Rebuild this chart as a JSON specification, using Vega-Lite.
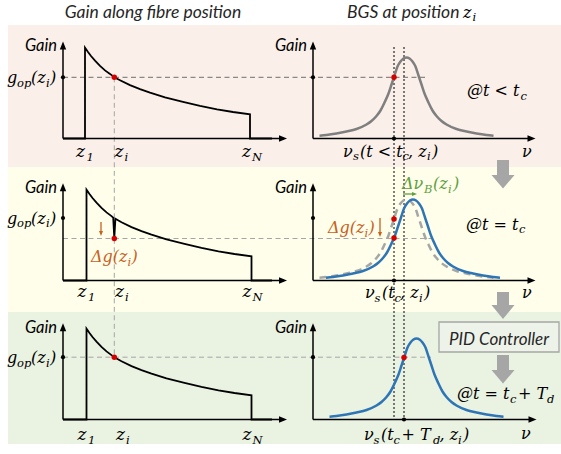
{
"$schema": "https://vega.github.io/schema/vega-lite/v6.json",
"width": 561, "height": 454, "padding": 0, "autosize": {"type": "none"},
"background": "white",
"config": {"view": {"stroke": null}},
"datasets": {
"bands": [
{"band":"a","x":8,"x2":561,"y":25,"y2":167},
{"band":"b","x":8,"x2":561,"y":167,"y2":312},
{"band":"c","x":8,"x2":561,"y":312,"y2":444}],
"shafts": [
{"x":497,"x2":509,"y":160,"y2":175.5},
{"x":497,"x2":509,"y":292,"y2":305.5},
{"x":497,"x2":509,"y":355,"y2":370.5}],
"heads": [
{"id":1,"x":491.5,"y":175,"y2":175},{"id":1,"x":503,"y":175,"y2":188.5},{"id":1,"x":514.5,"y":175,"y2":175},
{"id":2,"x":491.5,"y":305,"y2":305},{"id":2,"x":503,"y":305,"y2":319},{"id":2,"x":514.5,"y":305,"y2":305},
{"id":3,"x":491.5,"y":370,"y2":370},{"id":3,"x":503,"y":370,"y2":383.5},{"id":3,"x":514.5,"y":370,"y2":370}],
"pid": [{"x":439,"x2":559,"y":322,"y2":352}],
"dashes": [
{"tone":"dark","x":63,"y":77.3,"x2":428,"y2":77.3},
{"tone":"light","x":63,"y":238.5,"x2":433,"y2":238.5},
{"tone":"light","x":63,"y":357.2,"x2":431,"y2":357.2},
{"tone":"light","x":114.3,"y":77.3,"x2":114.3,"y2":357.2}],
"dotted": [
{"x":394,"y":47,"x2":394,"y2":419.5},
{"x":404,"y":47,"x2":404,"y2":419.5}],
"axes": [
{"x":63,"y":138.5,"x2":63,"y2":45},{"x":63,"y":280.5,"x2":63,"y2":187},{"x":63,"y":419.5,"x2":63,"y2":327},
{"x":63,"y":138.5,"x2":284,"y2":138.5},{"x":63,"y":280.5,"x2":284,"y2":280.5},{"x":63,"y":419.5,"x2":284,"y2":419.5},
{"x":313,"y":138.5,"x2":313,"y2":45},{"x":313,"y":280.5,"x2":313,"y2":187},{"x":313,"y":419.5,"x2":313,"y2":327},
{"x":313,"y":138.5,"x2":532,"y2":138.5},{"x":313,"y":280.5,"x2":532,"y2":280.5},{"x":313,"y":419.5,"x2":533,"y2":419.5}],
"ahead": [
{"dir":"up","x":63,"y":45.5},{"dir":"up","x":313,"y":45.5},{"dir":"up","x":63,"y":187.3},{"dir":"up","x":313,"y":187.3},{"dir":"up","x":63,"y":327.3},{"dir":"up","x":313,"y":327.3},
{"dir":"right","x":283,"y":138.5},{"dir":"right","x":531.5,"y":138.5},{"dir":"right","x":283,"y":280.5},{"dir":"right","x":531.5,"y":280.5},{"dir":"right","x":283,"y":419.5},{"dir":"right","x":532.5,"y":419.5}],
"gain": [
{"c":"r1","o":0,"x":63,"y":138.5},{"c":"r1","o":1,"x":85,"y":138.5},{"c":"r1","o":2,"x":85,"y":47.7},{"c":"r1","o":3,"x":88,"y":52},{"c":"r1","o":4,"x":91,"y":56},{"c":"r1","o":5,"x":95,"y":60.7},{"c":"r1","o":6,"x":100,"y":65.9},{"c":"r1","o":7,"x":105,"y":70.4},{"c":"r1","o":8,"x":110,"y":73.9},{"c":"r1","o":9,"x":114.3,"y":77.3},{"c":"r1","o":10,"x":120,"y":80.2},{"c":"r1","o":11,"x":130,"y":85.1},{"c":"r1","o":12,"x":140,"y":89.1},{"c":"r1","o":13,"x":150,"y":92.6},{"c":"r1","o":14,"x":165,"y":97.4},{"c":"r1","o":15,"x":183,"y":101.8},{"c":"r1","o":16,"x":200,"y":105.8},{"c":"r1","o":17,"x":217,"y":109.3},{"c":"r1","o":18,"x":233,"y":112},{"c":"r1","o":19,"x":250,"y":114.3},{"c":"r1","o":20,"x":250,"y":138.5},{"c":"r1","o":21,"x":272,"y":138.5},
{"c":"r2","o":0,"x":63,"y":280.5},{"c":"r2","o":1,"x":86.5,"y":280.5},{"c":"r2","o":2,"x":86.5,"y":189.7},{"c":"r2","o":3,"x":89.5,"y":194},{"c":"r2","o":4,"x":92.5,"y":198},{"c":"r2","o":5,"x":96.5,"y":202.7},{"c":"r2","o":6,"x":101.5,"y":207.9},{"c":"r2","o":7,"x":106.5,"y":212.4},{"c":"r2","o":8,"x":111.5,"y":216.1},{"c":"r2","o":9,"x":113.2,"y":217.7},{"c":"r2","o":10,"x":114.3,"y":238.5},{"c":"r2","o":11,"x":115.4,"y":218.8},{"c":"r2","o":12,"x":121.5,"y":222.2},{"c":"r2","o":13,"x":131.5,"y":227.1},{"c":"r2","o":14,"x":141.5,"y":231.1},{"c":"r2","o":15,"x":151.5,"y":234.6},{"c":"r2","o":16,"x":166.5,"y":239.4},{"c":"r2","o":17,"x":184.5,"y":243.8},{"c":"r2","o":18,"x":201.5,"y":247.8},{"c":"r2","o":19,"x":218.5,"y":251.3},{"c":"r2","o":20,"x":234.5,"y":254},{"c":"r2","o":21,"x":251.5,"y":256.3},{"c":"r2","o":22,"x":251.5,"y":280.5},{"c":"r2","o":23,"x":272,"y":280.5},
{"c":"r3","o":0,"x":63,"y":419.5},{"c":"r3","o":1,"x":86.5,"y":419.5},{"c":"r3","o":2,"x":86.5,"y":328.7},{"c":"r3","o":3,"x":89.5,"y":333},{"c":"r3","o":4,"x":92.5,"y":337},{"c":"r3","o":5,"x":96.5,"y":341.7},{"c":"r3","o":6,"x":101.5,"y":346.9},{"c":"r3","o":7,"x":106.5,"y":351.4},{"c":"r3","o":8,"x":111.5,"y":355.1},{"c":"r3","o":9,"x":114.3,"y":357.2},{"c":"r3","o":10,"x":121.5,"y":361.2},{"c":"r3","o":11,"x":131.5,"y":366.1},{"c":"r3","o":12,"x":141.5,"y":370.1},{"c":"r3","o":13,"x":151.5,"y":373.6},{"c":"r3","o":14,"x":166.5,"y":378.4},{"c":"r3","o":15,"x":184.5,"y":382.8},{"c":"r3","o":16,"x":201.5,"y":386.8},{"c":"r3","o":17,"x":218.5,"y":390.3},{"c":"r3","o":18,"x":234.5,"y":393},{"c":"r3","o":19,"x":251.5,"y":395.3},{"c":"r3","o":20,"x":251.5,"y":419.5},{"c":"r3","o":21,"x":272,"y":419.5}],
"bgs": [
{"c":"g1","x":319.5,"y":135.7},{"c":"g1","x":326.5,"y":135},{"c":"g1","x":336.5,"y":133.5},{"c":"g1","x":346.5,"y":131.5},{"c":"g1","x":356.5,"y":129},{"c":"g1","x":366.5,"y":124.5},{"c":"g1","x":371.5,"y":121},{"c":"g1","x":376.5,"y":116},{"c":"g1","x":380.5,"y":110.5},{"c":"g1","x":384.5,"y":102.5},{"c":"g1","x":388.5,"y":93.5},{"c":"g1","x":391.5,"y":84.5},{"c":"g1","x":394.5,"y":75.5},{"c":"g1","x":397.5,"y":66.5},{"c":"g1","x":400.5,"y":61.5},{"c":"g1","x":403.5,"y":58.5},{"c":"g1","x":406.5,"y":57.5},{"c":"g1","x":409.5,"y":58.5},{"c":"g1","x":412.5,"y":61.5},{"c":"g1","x":415.5,"y":66.5},{"c":"g1","x":418.5,"y":75.5},{"c":"g1","x":421.5,"y":84.5},{"c":"g1","x":424.5,"y":93.5},{"c":"g1","x":428.5,"y":102.5},{"c":"g1","x":432.5,"y":110.5},{"c":"g1","x":436.5,"y":116},{"c":"g1","x":441.5,"y":121},{"c":"g1","x":446.5,"y":124.5},{"c":"g1","x":456.5,"y":129},{"c":"g1","x":466.5,"y":131.5},{"c":"g1","x":476.5,"y":133.5},{"c":"g1","x":486.5,"y":135},{"c":"g1","x":493.5,"y":135.7},
{"c":"g2","x":319.5,"y":277.7},{"c":"g2","x":326.5,"y":277},{"c":"g2","x":336.5,"y":275.5},{"c":"g2","x":346.5,"y":273.5},{"c":"g2","x":356.5,"y":271},{"c":"g2","x":366.5,"y":266.5},{"c":"g2","x":371.5,"y":263},{"c":"g2","x":376.5,"y":258},{"c":"g2","x":380.5,"y":252.5},{"c":"g2","x":384.5,"y":244.5},{"c":"g2","x":388.5,"y":235.5},{"c":"g2","x":391.5,"y":226.5},{"c":"g2","x":394.5,"y":217.5},{"c":"g2","x":397.5,"y":208.5},{"c":"g2","x":400.5,"y":203.5},{"c":"g2","x":403.5,"y":200.5},{"c":"g2","x":406.5,"y":199.5},{"c":"g2","x":409.5,"y":200.5},{"c":"g2","x":412.5,"y":203.5},{"c":"g2","x":415.5,"y":208.5},{"c":"g2","x":418.5,"y":217.5},{"c":"g2","x":421.5,"y":226.5},{"c":"g2","x":424.5,"y":235.5},{"c":"g2","x":428.5,"y":244.5},{"c":"g2","x":432.5,"y":252.5},{"c":"g2","x":436.5,"y":258},{"c":"g2","x":441.5,"y":263},{"c":"g2","x":446.5,"y":266.5},{"c":"g2","x":456.5,"y":271},{"c":"g2","x":466.5,"y":273.5},{"c":"g2","x":476.5,"y":275.5},{"c":"g2","x":486.5,"y":277},{"c":"g2","x":493.5,"y":277.7},
{"c":"b2","x":326,"y":277.7},{"c":"b2","x":333,"y":277},{"c":"b2","x":343,"y":275.5},{"c":"b2","x":353,"y":273.5},{"c":"b2","x":363,"y":271},{"c":"b2","x":373,"y":266.5},{"c":"b2","x":378,"y":263},{"c":"b2","x":383,"y":258},{"c":"b2","x":387,"y":252.5},{"c":"b2","x":391,"y":244.5},{"c":"b2","x":395,"y":235.5},{"c":"b2","x":398,"y":226.5},{"c":"b2","x":401,"y":217.5},{"c":"b2","x":404,"y":208.5},{"c":"b2","x":407,"y":203.5},{"c":"b2","x":410,"y":200.5},{"c":"b2","x":413,"y":199.5},{"c":"b2","x":416,"y":200.5},{"c":"b2","x":419,"y":203.5},{"c":"b2","x":422,"y":208.5},{"c":"b2","x":425,"y":217.5},{"c":"b2","x":428,"y":226.5},{"c":"b2","x":431,"y":235.5},{"c":"b2","x":435,"y":244.5},{"c":"b2","x":439,"y":252.5},{"c":"b2","x":443,"y":258},{"c":"b2","x":448,"y":263},{"c":"b2","x":453,"y":266.5},{"c":"b2","x":463,"y":271},{"c":"b2","x":473,"y":273.5},{"c":"b2","x":483,"y":275.5},{"c":"b2","x":493,"y":277},{"c":"b2","x":500,"y":277.7},
{"c":"b3","x":329.5,"y":416.7},{"c":"b3","x":336.5,"y":416},{"c":"b3","x":346.5,"y":414.5},{"c":"b3","x":356.5,"y":412.5},{"c":"b3","x":366.5,"y":410},{"c":"b3","x":376.5,"y":405.5},{"c":"b3","x":381.5,"y":402},{"c":"b3","x":386.5,"y":397},{"c":"b3","x":390.5,"y":391.5},{"c":"b3","x":394.5,"y":383.5},{"c":"b3","x":398.5,"y":374.5},{"c":"b3","x":401.5,"y":365.5},{"c":"b3","x":404.5,"y":356.5},{"c":"b3","x":407.5,"y":347.5},{"c":"b3","x":410.5,"y":342.5},{"c":"b3","x":413.5,"y":339.5},{"c":"b3","x":416.5,"y":338.5},{"c":"b3","x":419.5,"y":339.5},{"c":"b3","x":422.5,"y":342.5},{"c":"b3","x":425.5,"y":347.5},{"c":"b3","x":428.5,"y":356.5},{"c":"b3","x":431.5,"y":365.5},{"c":"b3","x":434.5,"y":374.5},{"c":"b3","x":438.5,"y":383.5},{"c":"b3","x":442.5,"y":391.5},{"c":"b3","x":446.5,"y":397},{"c":"b3","x":451.5,"y":402},{"c":"b3","x":456.5,"y":405.5},{"c":"b3","x":466.5,"y":410},{"c":"b3","x":476.5,"y":412.5},{"c":"b3","x":486.5,"y":414.5},{"c":"b3","x":496.5,"y":416},{"c":"b3","x":503.5,"y":416.7}],
"small": [
{"col":"o","x":101,"y":222,"x2":101,"y2":232},
{"col":"o","x":380,"y":218,"x2":380,"y2":233},
{"col":"g","x":403,"y":194,"x2":413,"y2":194}],
"smallhead": [
{"col":"o","x":101,"y":233.5},
{"col":"o","x":380,"y":234.5},
{"col":"g","x":414.5,"y":194}],
"bdots": [
{"x":63,"y":77.3},{"x":313,"y":77.3},{"x":394,"y":138.5},
{"x":63,"y":218},{"x":313,"y":218},{"x":394,"y":280.5},
{"x":63,"y":357.2},{"x":313,"y":357.2},{"x":404,"y":419.5}],
"rdots": [
{"x":114.3,"y":77.3},{"x":394,"y":77.3},{"x":114.3,"y":238.5},{"x":394,"y":219},{"x":394,"y":238},{"x":114.3,"y":357.2},{"x":404,"y":357.5}],
"texts": [
{"k":"ti","x":153,"y":17.5,"t":"Gain along fibre position"},
{"k":"tl","x":347,"y":17.5,"t":"BGS at position"},
{"k":"m","x":463,"y":17.5,"t":"z"},{"k":"s","x":472.5,"y":21,"t":"i"},
{"k":"ga","x":57,"y":51,"t":"Gain"},{"k":"ga","x":307,"y":51,"t":"Gain"},
{"k":"ga","x":57,"y":192.8,"t":"Gain"},{"k":"ga","x":307,"y":192.8,"t":"Gain"},
{"k":"ga","x":57,"y":332.8,"t":"Gain"},{"k":"ga","x":307,"y":332.8,"t":"Gain"},
{"k":"m","x":7,"y":83,"t":"g"},{"k":"s","x":17,"y":86.5,"t":"op"},{"k":"m","x":31,"y":83,"t":"(z"},{"k":"s","x":46,"y":86.5,"t":"i"},{"k":"m","x":50,"y":83,"t":")"},
{"k":"m","x":7,"y":223.7,"t":"g"},{"k":"s","x":17,"y":227.2,"t":"op"},{"k":"m","x":31,"y":223.7,"t":"(z"},{"k":"s","x":46,"y":227.2,"t":"i"},{"k":"m","x":50,"y":223.7,"t":")"},
{"k":"m","x":7,"y":363,"t":"g"},{"k":"s","x":17,"y":366.5,"t":"op"},{"k":"m","x":31,"y":363,"t":"(z"},{"k":"s","x":46,"y":366.5,"t":"i"},{"k":"m","x":50,"y":363,"t":")"},
{"k":"z","x":76,"y":156.5,"t":"z"},{"k":"s","x":86.5,"y":160.5,"t":"1"},{"k":"z","x":114.5,"y":156.5,"t":"z"},{"k":"s","x":124.5,"y":160.5,"t":"i"},{"k":"z","x":242,"y":156.5,"t":"z"},{"k":"s","x":252,"y":160.5,"t":"N"},
{"k":"z","x":77.5,"y":297,"t":"z"},{"k":"s","x":88,"y":301,"t":"1"},{"k":"z","x":115,"y":297,"t":"z"},{"k":"s","x":125,"y":301,"t":"i"},{"k":"z","x":242.5,"y":297,"t":"z"},{"k":"s","x":252.5,"y":301,"t":"N"},
{"k":"z","x":77.5,"y":439.5,"t":"z"},{"k":"s","x":88,"y":443.5,"t":"1"},{"k":"z","x":116,"y":439.5,"t":"z"},{"k":"s","x":126,"y":443.5,"t":"i"},{"k":"z","x":242.5,"y":439.5,"t":"z"},{"k":"s","x":252.5,"y":443.5,"t":"N"},
{"k":"m","x":467,"y":96,"t":"@t < t"},{"k":"s","x":520.5,"y":99.5,"t":"c"},
{"k":"m","x":522,"y":156.5,"t":"ν"},
{"k":"m","x":343,"y":156.5,"t":"ν"},{"k":"s","x":353,"y":160,"t":"s"},{"k":"m","x":360,"y":156.5,"t":"(t < t"},{"k":"s","x":402.5,"y":160,"t":"c"},{"k":"m","x":408,"y":156.5,"t":", z"},{"k":"s","x":427,"y":160,"t":"i"},{"k":"m","x":432,"y":156.5,"t":")"},
{"k":"gm","x":402,"y":189,"t":"Δν"},{"k":"gs","x":424,"y":192.5,"t":"B"},{"k":"gm","x":433,"y":189,"t":"(z"},{"k":"gs","x":448,"y":192.5,"t":"i"},{"k":"gm","x":453,"y":189,"t":")"},
{"k":"om","x":328,"y":233,"t":"Δg(z"},{"k":"os","x":364.5,"y":236.5,"t":"i"},{"k":"om","x":368.5,"y":233,"t":")"},
{"k":"om","x":91,"y":262,"t":"Δg(z"},{"k":"os","x":127.5,"y":265.5,"t":"i"},{"k":"om","x":131.5,"y":262,"t":")"},
{"k":"m","x":466,"y":229.5,"t":"@t = t"},{"k":"s","x":519,"y":233,"t":"c"},
{"k":"m","x":365,"y":298.3,"t":"ν"},{"k":"s","x":374.5,"y":302,"t":"s"},{"k":"m","x":382,"y":298.3,"t":"(t"},{"k":"s","x":394.5,"y":302,"t":"c"},{"k":"m","x":400,"y":298.3,"t":", z"},{"k":"s","x":419,"y":302,"t":"i"},{"k":"m","x":424,"y":298.3,"t":")"},
{"k":"m","x":522,"y":298.3,"t":"ν"},
{"k":"m","x":457,"y":399.3,"t":"@t = t"},{"k":"s","x":510,"y":402.8,"t":"c"},{"k":"m","x":518,"y":399.3,"t":"+ T"},{"k":"s","x":547,"y":402.8,"t":"d"},
{"k":"m","x":364,"y":440,"t":"ν"},{"k":"s","x":373.5,"y":443.5,"t":"s"},{"k":"m","x":381,"y":440,"t":"(t"},{"k":"s","x":393.5,"y":443.5,"t":"c"},{"k":"m","x":401.5,"y":440,"t":"+ T"},{"k":"s","x":433,"y":443.5,"t":"d"},{"k":"m","x":439.5,"y":440,"t":", z"},{"k":"s","x":458,"y":443.5,"t":"i"},{"k":"m","x":463,"y":440,"t":")"},
{"k":"m","x":521,"y":439,"t":"ν"},
{"k":"pid","x":499,"y":345,"t":"PID Controller"}]
},
"encoding": {
"x": {"field":"x","type":"quantitative","scale":{"domain":[0,561],"nice":false,"zero":false},"axis":null},
"y": {"field":"y","type":"quantitative","scale":{"domain":[0,454],"nice":false,"zero":false,"reverse":true},"axis":null}
},
"layer": [
{"data":{"name":"bands"},"mark":{"type":"rect"},"encoding":{"x2":{"field":"x2"},"y2":{"field":"y2"},"color":{"field":"band","type":"nominal","scale":{"domain":["a","b","c"],"range":["#faefe9","#fefeeb","#eaf2e2"]},"legend":null}}},
{"data":{"name":"shafts"},"mark":{"type":"rect","color":"#a6a6a6"},"encoding":{"x2":{"field":"x2"},"y2":{"field":"y2"}}},
{"data":{"name":"heads"},"mark":{"type":"area","orient":"vertical","color":"#a6a6a6"},"encoding":{"y2":{"field":"y2"},"detail":{"field":"id"}}},
{"data":{"name":"pid"},"mark":{"type":"rect","fill":"#eef3ea","stroke":"#a6a6a6","strokeWidth":1.3},"encoding":{"x2":{"field":"x2"},"y2":{"field":"y2"}}},
{"data":{"name":"dashes"},"transform":[{"filter":"datum.tone==='dark'"}],"mark":{"type":"rule","color":"#707070","strokeWidth":1,"strokeDash":[5,3.5]},"encoding":{"x2":{"field":"x2"},"y2":{"field":"y2"}}},
{"data":{"name":"dashes"},"transform":[{"filter":"datum.tone==='light'"}],"mark":{"type":"rule","color":"#a6a6a6","strokeWidth":1,"strokeDash":[5,3.5]},"encoding":{"x2":{"field":"x2"},"y2":{"field":"y2"}}},
{"data":{"name":"dotted"},"mark":{"type":"rule","color":"#000000","strokeWidth":1,"strokeDash":[2,2]},"encoding":{"x2":{"field":"x2"},"y2":{"field":"y2"}}},
{"data":{"name":"axes"},"mark":{"type":"rule","color":"#000000","strokeWidth":1.5},"encoding":{"x2":{"field":"x2"},"y2":{"field":"y2"}}},
{"data":{"name":"ahead"},"transform":[{"filter":"datum.dir==='up'"}],"mark":{"type":"point","shape":"M0,-1L0.8,1L-0.8,1Z","filled":true,"size":64,"color":"#000000","opacity":1},"encoding":{}},
{"data":{"name":"ahead"},"transform":[{"filter":"datum.dir==='right'"}],"mark":{"type":"point","shape":"M1,0L-1,0.8L-1,-0.8Z","filled":true,"size":64,"color":"#000000","opacity":1},"encoding":{}},
{"data":{"name":"gain"},"mark":{"type":"line","color":"#000000","strokeWidth":1.8},"encoding":{"detail":{"field":"c"},"order":{"field":"o","type":"quantitative"}}},
{"data":{"name":"bgs"},"transform":[{"filter":"datum.c==='g1'"}],"mark":{"type":"line","color":"#7f7f7f","strokeWidth":2.5,"interpolate":"monotone"},"encoding":{}},
{"data":{"name":"bgs"},"transform":[{"filter":"datum.c==='g2'"}],"mark":{"type":"line","color":"#a6a6a6","strokeWidth":2.5,"strokeDash":[7,5],"interpolate":"monotone"},"encoding":{}},
{"data":{"name":"bgs"},"transform":[{"filter":"datum.c==='b2' || datum.c==='b3'"}],"mark":{"type":"line","color":"#2e75b6","strokeWidth":2.5,"interpolate":"monotone"},"encoding":{"detail":{"field":"c"}}},
{"data":{"name":"small"},"transform":[{"filter":"datum.col==='o'"}],"mark":{"type":"rule","color":"#c8611c","strokeWidth":1.3},"encoding":{"x2":{"field":"x2"},"y2":{"field":"y2"}}},
{"data":{"name":"small"},"transform":[{"filter":"datum.col==='g'"}],"mark":{"type":"rule","color":"#5fa03e","strokeWidth":1.3},"encoding":{"x2":{"field":"x2"},"y2":{"field":"y2"}}},
{"data":{"name":"smallhead"},"transform":[{"filter":"datum.col==='o'"}],"mark":{"type":"point","shape":"M-0.8,-1L0.8,-1L0,1Z","filled":true,"size":25,"color":"#c8611c","opacity":1},"encoding":{}},
{"data":{"name":"smallhead"},"transform":[{"filter":"datum.col==='g'"}],"mark":{"type":"point","shape":"M1,0L-1,0.8L-1,-0.8Z","filled":true,"size":25,"color":"#5fa03e","opacity":1},"encoding":{}},
{"data":{"name":"bdots"},"mark":{"type":"circle","color":"#000000","size":18,"opacity":1},"encoding":{}},
{"data":{"name":"rdots"},"mark":{"type":"circle","color":"#d40000","size":30,"opacity":1},"encoding":{}},
{"data":{"name":"texts"},"transform":[{"filter":"datum.k==='ti'"}],"mark":{"type":"text","align":"center","baseline":"alphabetic","font":"Lato","fontStyle":"italic","fontSize":17.5,"color":"#262626"},"encoding":{"text":{"field":"t"}}},
{"data":{"name":"texts"},"transform":[{"filter":"datum.k==='tl'"}],"mark":{"type":"text","align":"left","baseline":"alphabetic","font":"Lato","fontStyle":"italic","fontSize":17.5,"color":"#262626"},"encoding":{"text":{"field":"t"}}},
{"data":{"name":"texts"},"transform":[{"filter":"datum.k==='ga'"}],"mark":{"type":"text","align":"right","baseline":"alphabetic","font":"Lato","fontStyle":"italic","fontSize":16.5,"color":"#000000"},"encoding":{"text":{"field":"t"}}},
{"data":{"name":"texts"},"transform":[{"filter":"datum.k==='pid'"}],"mark":{"type":"text","align":"center","baseline":"alphabetic","font":"Lato","fontStyle":"italic","fontSize":17,"color":"#262626"},"encoding":{"text":{"field":"t"}}},
{"data":{"name":"texts"},"transform":[{"filter":"datum.k==='m'"}],"mark":{"type":"text","align":"left","baseline":"alphabetic","font":"DejaVu Serif","fontStyle":"italic","fontSize":16,"color":"#000000"},"encoding":{"text":{"field":"t"}}},
{"data":{"name":"texts"},"transform":[{"filter":"datum.k==='z'"}],"mark":{"type":"text","align":"left","baseline":"alphabetic","font":"DejaVu Serif","fontStyle":"italic","fontSize":17,"color":"#000000"},"encoding":{"text":{"field":"t"}}},
{"data":{"name":"texts"},"transform":[{"filter":"datum.k==='s'"}],"mark":{"type":"text","align":"left","baseline":"alphabetic","font":"DejaVu Serif","fontStyle":"italic","fontSize":11.5,"color":"#000000"},"encoding":{"text":{"field":"t"}}},
{"data":{"name":"texts"},"transform":[{"filter":"datum.k==='om'"}],"mark":{"type":"text","align":"left","baseline":"alphabetic","font":"DejaVu Serif","fontStyle":"italic","fontSize":16,"color":"#c8611c"},"encoding":{"text":{"field":"t"}}},
{"data":{"name":"texts"},"transform":[{"filter":"datum.k==='os'"}],"mark":{"type":"text","align":"left","baseline":"alphabetic","font":"DejaVu Serif","fontStyle":"italic","fontSize":11.5,"color":"#c8611c"},"encoding":{"text":{"field":"t"}}},
{"data":{"name":"texts"},"transform":[{"filter":"datum.k==='gm'"}],"mark":{"type":"text","align":"left","baseline":"alphabetic","font":"DejaVu Serif","fontStyle":"italic","fontSize":16,"color":"#5fa03e"},"encoding":{"text":{"field":"t"}}},
{"data":{"name":"texts"},"transform":[{"filter":"datum.k==='gs'"}],"mark":{"type":"text","align":"left","baseline":"alphabetic","font":"DejaVu Serif","fontStyle":"italic","fontSize":11.5,"color":"#5fa03e"},"encoding":{"text":{"field":"t"}}}
]
}
